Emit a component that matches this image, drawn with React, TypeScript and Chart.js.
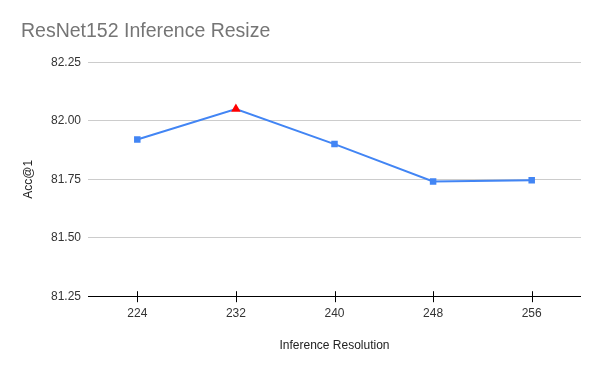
import React, { useEffect, useRef } from "react";
import { Chart, registerables } from "chart.js";

Chart.register(...registerables);

const categories = ["224", "232", "240", "248", "256"];
const accValues = [81.92, 82.05, 81.9, 81.74, 81.745];
const yTicks = [81.25, 81.5, 81.75, 82.0, 82.25];
const pointStyles = ["rect", "triangle", "rect", "rect", "rect"];
const pointColors = ["#4285F4", "#FF0000", "#4285F4", "#4285F4", "#4285F4"];
const pointRadii = [4.6, 5.5, 4.6, 4.6, 4.6];

const FONT = "'Liberation Sans', Arial, sans-serif";

const tickMarks = {
  id: "tickMarks",
  afterDraw(chart: any) {
    const ctx = chart.ctx;
    const x = chart.scales.x;
    const area = chart.chartArea;
    ctx.save();
    ctx.strokeStyle = "#000000";
    ctx.lineWidth = 1;
    ctx.beginPath();
    ctx.moveTo(area.left, Math.round(area.bottom) + 0.5);
    ctx.lineTo(area.right, Math.round(area.bottom) + 0.5);
    for (let i = 0; i < categories.length; i++) {
      const px = Math.round(x.getPixelForValue(i)) + 0.5;
      ctx.moveTo(px, area.bottom - 5);
      ctx.lineTo(px, area.bottom + 6);
    }
    ctx.stroke();
    ctx.restore();
  },
};

export default function App() {
  const ref = useRef<HTMLCanvasElement | null>(null);
  useEffect(() => {
    document.body.style.margin = "0";
    if (!ref.current) return;
    const chart = new Chart(ref.current, {
      type: "line",
      data: {
        labels: categories,
        datasets: [
          {
            data: accValues,
            borderColor: "#4285F4",
            borderWidth: 2,
            pointStyle: pointStyles as any,
            pointBackgroundColor: pointColors,
            pointBorderColor: pointColors,
            pointBorderWidth: 0,
            pointRadius: pointRadii,
            tension: 0,
          },
        ],
      },
      options: {
        animation: false,
        responsive: false,
        devicePixelRatio: 1,
        layout: { padding: { left: 21, right: 19, top: 0, bottom: 18 } },
        plugins: {
          legend: { display: false },
          tooltip: { enabled: false },
          title: {
            display: true,
            text: "ResNet152 Inference Resize",
            align: "start",
            color: "#757575",
            font: { family: FONT, size: 19.5, weight: "normal" },
            padding: { top: 20, bottom: 18.8 },
          },
        },
        scales: {
          x: {
            type: "category",
            offset: true,
            grid: { display: false, drawTicks: false },
            border: { display: false },
            ticks: { color: "#333333", font: { family: FONT, size: 12 }, padding: 10 },
            title: {
              display: true,
              text: "Inference Resolution",
              color: "#222222",
              font: { family: FONT, size: 12 },
              padding: { top: 8, bottom: 0 },
            },
          },
          y: {
            min: 81.25,
            max: 82.25,
            afterBuildTicks(scale: any) {
              scale.ticks = yTicks.map((v) => ({ value: v }));
            },
            afterFit(scale: any) {
              scale.width = 67;
            },
            grid: { color: "#cccccc", drawTicks: false },
            border: { display: false },
            ticks: {
              color: "#333333",
              font: { family: FONT, size: 12 },
              padding: 7,
              callback: (v: any) => Number(v).toFixed(2),
            },
            title: {
              display: true,
              text: "Acc@1",
              color: "#222222",
              font: { family: FONT, size: 12 },
              padding: { top: 0, bottom: 0 },
            },
          },
        },
      },
      plugins: [tickMarks],
    });
    return () => chart.destroy();
  }, []);
  return (
    <div style={{ width: 600, height: 371 }}>
      <canvas ref={ref} width={600} height={371} style={{ width: 600, height: 371 }} />
    </div>
  );
}
